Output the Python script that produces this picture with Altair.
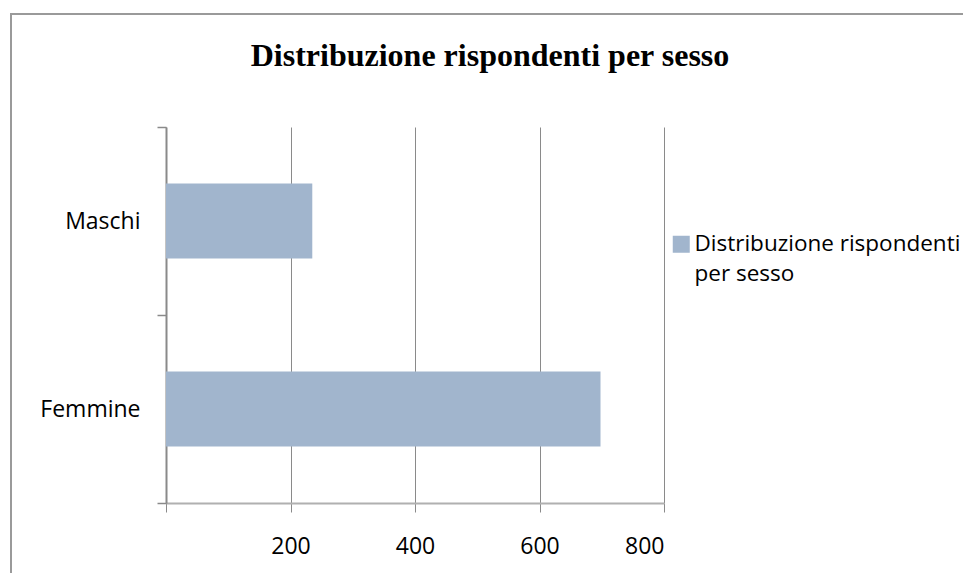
import altair as alt
import pandas as pd

# --- data ---
categories = ["Maschi", "Femmine"]
values = [235, 698]
series_name = "Distribuzione rispondenti per sesso"
x_ticks = [0, 200, 400, 600, 800]
title_text = "Distribuzione rispondenti per sesso"

df = pd.DataFrame({
    "sesso": categories,
    "valore": values,
    "serie": [series_name] * len(categories),
})

FONT = "Open Sans"
BAR_COLOR = "#A1B5CD"

bars = alt.Chart(df).mark_bar(height={"band": 0.4}).encode(
    y=alt.Y(
        "sesso:N",
        sort=categories,
        title=None,
        scale=alt.Scale(paddingInner=0, paddingOuter=0),
        axis=alt.Axis(
            tickBand="extent",
            tickSize=9,
            tickColor="#8a8a8a",
            tickWidth=1.5,
            domainColor="#8a8a8a",
            domainWidth=2,
            labelPadding=17,
            labelFont=FONT,
            labelFontSize=23,
            labelColor="#000000",
            grid=False,
        ),
    ),
    x=alt.X(
        "valore:Q",
        title=None,
        scale=alt.Scale(domain=[0, 800], nice=False),
        axis=alt.Axis(
            values=x_ticks,
            labelExpr="datum.value == 0 ? '' : datum.label",
            tickSize=9,
            tickColor="#8a8a8a",
            tickWidth=1,
            domainColor="#b0b0b0",
            domainWidth=2,
            grid=True,
            gridColor="#8a8a8a",
            gridWidth=1,
            labelPadding=23,
            labelFont=FONT,
            labelFontSize=23,
            labelColor="#000000",
        ),
    ),
    color=alt.Color(
        "serie:N",
        scale=alt.Scale(range=[BAR_COLOR]),
        legend=alt.Legend(
            title=None,
            orient="none",
            legendX=504,
            legendY=106,
            symbolType="square",
            symbolSize=289,
            symbolStrokeWidth=0,
            labelFont=FONT,
            labelFontSize=22.5,
            labelColor="#000000",
            labelOffset=2,
            labelLimit=400,
            labelExpr="[slice(datum.label, 0, 25), slice(datum.label, 26)]",
            padding=0,
        ),
    ),
)

frame_df = pd.DataFrame({"k": [0]})
frame_left = alt.Chart(frame_df).mark_rule(color="#9a9a9a", strokeWidth=2).encode(
    x=alt.value(-155), y=alt.value(-113), y2=alt.value(470)
)
frame_top = alt.Chart(frame_df).mark_rule(color="#9a9a9a", strokeWidth=2).encode(
    x=alt.value(-156), x2=alt.value(810), y=alt.value(-113)
)

chart = alt.layer(frame_left, frame_top, bars).properties(
    width=498,
    height=376,
    padding={"left": 158, "top": 119, "right": 299, "bottom": 70},
    autosize=alt.AutoSizeParams(type="none"),
    title=alt.TitleParams(
        text=title_text,
        font="Liberation Serif",
        fontSize=32,
        fontWeight="bold",
        color="#000000",
        anchor="middle",
        dx=75,
        baseline="alphabetic",
        offset=-85,
    ),
).configure(
    style={"guide-label": {"lineHeight": 30}},
    view=alt.ViewConfig(stroke="transparent"),
)

chart.save("out.html", embed_options={"renderer": "svg", "actions": False})
